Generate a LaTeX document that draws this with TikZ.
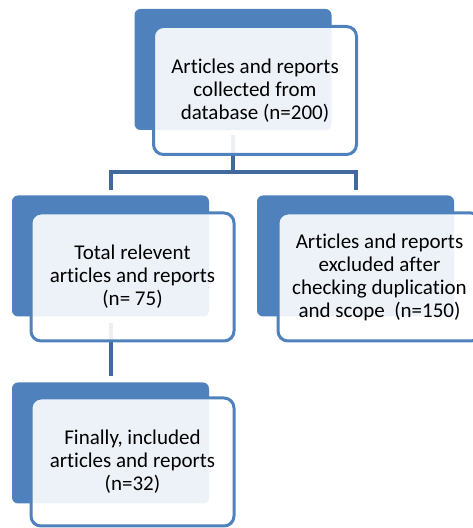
\documentclass[tikz,border=0pt]{standalone}
\usepackage{fontspec}
\setmainfont{Carlito}[Ligatures={NoCommon}]
\usepackage{xcolor}
\usetikzlibrary{positioning}
\definecolor{boxblue}{HTML}{4F81BD}
\definecolor{lineblue}{HTML}{41699B}

\begin{document}
\begin{tikzpicture}[x=1pt,y=1pt]
  \tikzset{
    back/.style={fill=boxblue,rounded corners=6pt,minimum width=197pt,minimum height=121pt,inner sep=0pt},
    front/.style={draw=boxblue,line width=3pt,fill=white,fill opacity=0.9,text opacity=1,rounded corners=10pt,
      minimum width=203pt,minimum height=128pt,align=center,inner sep=0pt,
      font=\fontsize{21}{23}\selectfont},
    conn/.style={draw=lineblue,line width=4pt}
  }
  \def\dx{22}
  \def\dy{-21}
  \useasboundingbox (0,0) rectangle (473,528);

  % back boxes
  \node[back] (bt) at (233,458.5) {};
  \node[back] (bl) at (110.5,272) {};
  \node[back] (br) at (355.5,272) {};
  \node[back] (bb) at (110.5,85) {};

  % connectors
  \coordinate (j) at ([yshift=-42]bt.south);
  \draw[conn,shorten <=5pt] (bt.south) -- (j);
  \draw[conn,shorten >=5pt] (j) -| (bl.north);
  \draw[conn,shorten >=5pt] (j) -| (br.north);
  \draw[conn,shorten <=6pt,shorten >=6pt] (bl.south) -- (bb.north);

  % front boxes
  \node[front] (t) at ([shift={(\dx,\dy)}]bt.center) {Articles and reports\\collected from\\database (n=200)};
  \node[front] (l) at ([shift={(\dx,\dy)}]bl.center) {Total relevent\\articles and reports\\(n= 75)};
  \node[front] (r) at ([shift={(\dx+2,\dy)}]br.center) {Articles and reports\\excluded after\\checking duplication\\and scope\ \ (n=150)};
  \node[front] (b) at ([shift={(\dx,\dy+2)}]bb.center) {Finally, included\\articles and reports\\(n=32)};
\end{tikzpicture}
\end{document}
